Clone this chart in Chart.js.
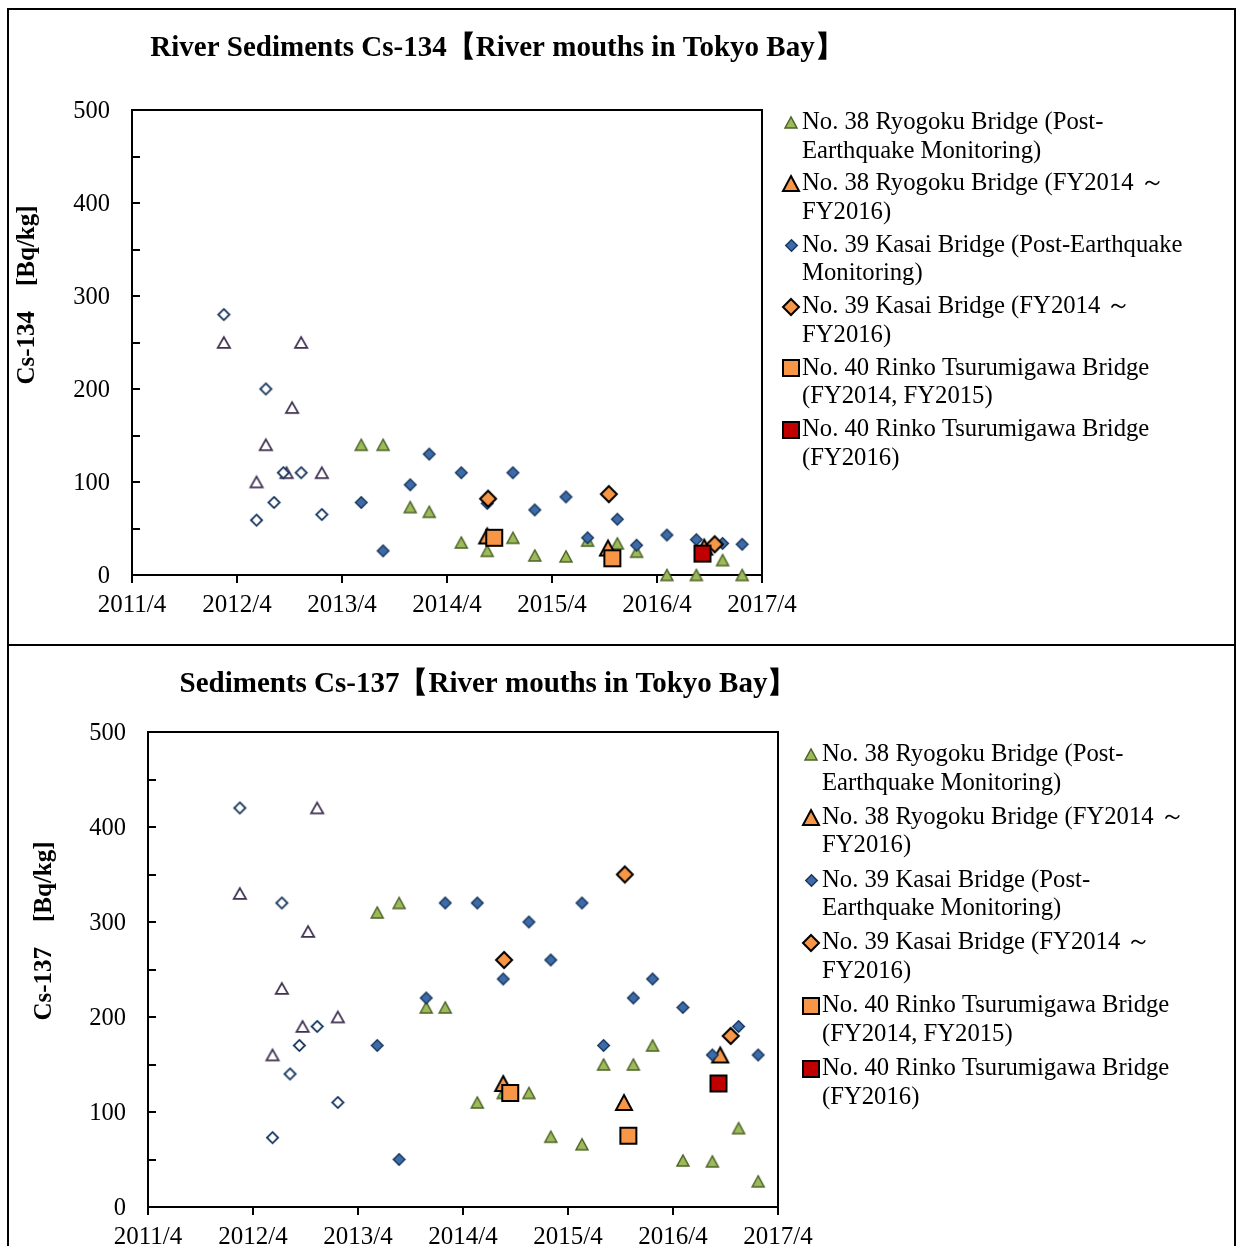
<!DOCTYPE html>
<html>
<head>
<meta charset="utf-8">
<script src="https://cdn.jsdelivr.net/npm/chart.js@4.4.1/dist/chart.umd.min.js"></script>
<style>
  html, body { margin: 0; padding: 0; background: #fff; }
  #wrap { position: relative; width: 1237px; height: 1246px; overflow: hidden; background: #fff; }
  .panel { position: absolute; left: 0; width: 1237px; }
  #p1 { top: 0; height: 645px; }
  #p2 { top: 645px; height: 601px; }
  .frame { position: absolute; border: 2px solid #000; box-sizing: border-box; pointer-events: none; }
</style>
</head>
<body>
<div id="wrap">
  <div class="panel" id="p1"><canvas id="c134" width="1237" height="645"></canvas></div>
  <div class="panel" id="p2"><canvas id="c137" width="1237" height="601"></canvas></div>
  <div class="frame" style="left:7px;top:8px;width:1229px;height:638px"></div>
  <div class="frame" style="left:7px;top:644px;width:1229px;height:620px"></div>
</div>
<script>
// ---- sampling dates ----
// Post-earthquake monitoring (No. 38 Ryogoku Bridge and No. 39 Kasai Bridge)
const postQuakeDates = ['2013-06-07', '2013-08-22', '2013-11-25', '2014-01-30', '2014-05-20', '2014-08-19',
  '2014-11-17', '2015-02-02', '2015-05-19', '2015-08-03', '2015-11-15', '2016-01-21',
  '2016-05-05', '2016-08-16', '2016-11-16', '2017-01-23'];
// Earlier surveys (open markers)
const earlyKasaiDates = ['2012-02-16', '2012-06-08', '2012-07-10', '2012-08-08', '2012-09-10', '2012-11-11', '2013-01-22'];
const earlyRyogokuDates = ['2012-02-16', '2012-06-08', '2012-07-10', '2012-09-21', '2012-10-10', '2012-11-11', '2013-01-22'];
// FY2014 - FY2016 surveys
const fyRyogokuDates = ['2014-08-19', '2015-10-13', '2016-09-13'];
const fyKasaiDates = ['2014-08-22', '2015-10-16', '2016-10-19'];
const rinkoDates1415 = ['2014-09-13', '2015-10-28'];
const rinkoDates16 = ['2016-09-07'];

// ---- Cs-134 (Bq/kg) ----
const cs134EarlyRyogoku = [250, 100, 140, 110, 180, 250, 110];
const cs134EarlyKasai = [280, 59, 200, 78, 110, 110, 65];
const cs134Ryogoku = [140, 140, 73, 68, 35, 26, 40, 21, 20, 37, 34, 25, 0, 0, 16, 0];
const cs134Kasai = [78, 26, 97, 130, 110, 77, 110, 70, 84, 40, 60, 32, 43, 38, 34, 33];
const cs134RyogokuFY = [42, 29, 30];
const cs134KasaiFY = [82, 87, 33];
const cs134Rinko1415 = [40, 18];
const cs134Rinko16 = [23];

// ---- Cs-137 (Bq/kg) ----
const cs137EarlyRyogoku = [330, 160, 230, 190, 290, 420, 200];
const cs137EarlyKasai = [420, 73, 320, 140, 170, 190, 110];
const cs137Ryogoku = [310, 320, 210, 210, 110, 120, 120, 74, 66, 150, 150, 170, 49, 48, 83, 27];
const cs137Kasai = [170, 50, 220, 320, 320, 240, 300, 260, 320, 170, 220, 240, 210, 160, 190, 160];
const cs137RyogokuFY = [130, 110, 160];
const cs137KasaiFY = [260, 350, 180];
const cs137Rinko1415 = [120, 75];
const cs137Rinko16 = [130];

// ---- axis ----
const yearTickLabels = ['2011/4', '2012/4', '2013/4', '2014/4', '2015/4', '2016/4', '2017/4'];
const valueTicks = [0, 100, 200, 300, 400, 500];

// ---- legend text ----
const seriesNames = [
  'No. 38 Ryogoku Bridge (Post-Earthquake Monitoring)',
  'No. 38 Ryogoku Bridge (FY2014 ～ FY2016)',
  'No. 39 Kasai Bridge (Post-Earthquake Monitoring)',
  'No. 39 Kasai Bridge (FY2014 ～ FY2016)',
  'No. 40 Rinko Tsurumigawa Bridge (FY2014, FY2015)',
  'No. 40 Rinko Tsurumigawa Bridge (FY2016)'
];
const legendLines134 = [
  ['No. 38 Ryogoku Bridge (Post-', 'Earthquake Monitoring)'],
  ['No. 38 Ryogoku Bridge (FY2014 ～', 'FY2016)'],
  ['No. 39 Kasai Bridge (Post-Earthquake', 'Monitoring)'],
  ['No. 39 Kasai Bridge (FY2014 ～', 'FY2016)'],
  ['No. 40 Rinko Tsurumigawa Bridge', '(FY2014, FY2015)'],
  ['No. 40 Rinko Tsurumigawa Bridge', '(FY2016)']
];
const legendLines137 = [
  ['No. 38 Ryogoku Bridge (Post-', 'Earthquake Monitoring)'],
  ['No. 38 Ryogoku Bridge (FY2014 ～', 'FY2016)'],
  ['No. 39 Kasai Bridge (Post-', 'Earthquake Monitoring)'],
  ['No. 39 Kasai Bridge (FY2014 ～', 'FY2016)'],
  ['No. 40 Rinko Tsurumigawa Bridge', '(FY2014, FY2015)'],
  ['No. 40 Rinko Tsurumigawa Bridge', '(FY2016)']
];

const SERIF = '"Liberation Serif", "Times New Roman", serif';

// months elapsed since 2011-04-01
function monthsSinceStart(iso) {
  const [y, m, d] = iso.split('-').map(Number);
  return (y - 2011) * 12 + (m - 4) + (d - 1) / 30;
}

// marker bitmaps
function makeMarker(shape, w, h, fill, stroke, lw) {
  const c = document.createElement('canvas');
  const W = Math.ceil(w) + 4, H = Math.ceil(h) + 4;
  c.width = W; c.height = H;
  const g = c.getContext('2d');
  const x0 = (W - w) / 2 + lw / 2, y0 = (H - h) / 2 + lw / 2;
  const x1 = x0 + w - lw, y1 = y0 + h - lw;
  const cx = (x0 + x1) / 2, cy = (y0 + y1) / 2;
  g.beginPath();
  if (shape === 'triangle') {
    g.moveTo(cx, y0); g.lineTo(x1, y1); g.lineTo(x0, y1); g.closePath();
  } else if (shape === 'diamond') {
    g.moveTo(cx, y0); g.lineTo(x1, cy); g.lineTo(cx, y1); g.lineTo(x0, cy); g.closePath();
  } else {
    g.rect(x0, y0, x1 - x0, y1 - y0);
  }
  g.fillStyle = fill; g.fill();
  g.lineJoin = 'miter'; g.lineWidth = lw; g.strokeStyle = stroke; g.stroke();
  return c;
}

const markers = {
  earlyRyogoku: makeMarker('triangle', 14, 12.5, '#ffffff', '#403152', 1.8),
  earlyKasai: makeMarker('diamond', 13, 13, '#ffffff', '#17365D', 1.8),
  ryogoku: makeMarker('triangle', 13.5, 12.5, '#9BBB59', '#4F6228', 1.4),
  ryogokuFY: makeMarker('triangle', 18, 17, '#F79646', '#000000', 2),
  kasai: makeMarker('diamond', 13, 13, '#3D6BA8', '#17365D', 1.4),
  kasaiFY: makeMarker('diamond', 18, 18, '#F79646', '#000000', 2),
  rinko1415: makeMarker('square', 18, 18, '#F79646', '#000000', 2),
  rinko16: makeMarker('square', 18, 18, '#C00000', '#000000', 2)
};
const legendMarkers = [markers.ryogoku, markers.ryogokuFY, markers.kasai, markers.kasaiFY, markers.rinko1415, markers.rinko16];

function points(dates, values) {
  return dates.map((d, i) => ({ x: monthsSinceStart(d), y: values[i] }));
}

// draws the plot box, inside value ticks, titles and legend
const decorPlugin = {
  id: 'decor',
  beforeDatasetsDraw(chart, args, o) {
    const { ctx, chartArea: a } = chart;
    const ys = chart.scales.y;
    ctx.save();
    ctx.strokeStyle = '#000';
    ctx.lineWidth = 2;
    ctx.beginPath();
    ctx.moveTo(a.left, a.top); ctx.lineTo(a.right, a.top); ctx.lineTo(a.right, a.bottom);
    ctx.stroke();
    ctx.beginPath();
    ys.ticks.forEach(t => {
      const py = Math.round(ys.getPixelForValue(t.value));
      ctx.moveTo(a.left, py); ctx.lineTo(a.left + 8, py);
    });
    ctx.stroke();
    ctx.restore();
  },
  afterDraw(chart, args, o) {
    const ctx = chart.ctx;
    ctx.save();
    ctx.fillStyle = '#000';
    ctx.textBaseline = 'middle';
    // title
    ctx.font = 'bold 29px ' + SERIF;
    ctx.textAlign = 'center';
    ctx.fillText(o.title, o.titleX, o.titleY);
    // value axis title
    ctx.save();
    ctx.translate(o.yTitleX, o.yTitleY);
    ctx.rotate(-Math.PI / 2);
    ctx.font = 'bold 25px ' + SERIF;
    ctx.fillText(o.yTitle, 0, 0);
    ctx.restore();
    // legend
    ctx.font = '24.7px ' + SERIF;
    ctx.textAlign = 'left';
    o.legend.forEach((lines, i) => {
      const y = o.legendY + i * o.legendStep;
      const m = legendMarkers[i];
      ctx.drawImage(m, Math.round(o.legendMarkerX - m.width / 2), Math.round(y - m.height / 2));
      lines.forEach((ln, j) => ctx.fillText(ln, o.legendTextX, y + j * o.legendLine));
    });
    ctx.restore();
  }
};

function buildChart(id, s) {
  const sets = [
    { label: 'Earlier survey (No. 38)', data: points(earlyRyogokuDates, s.earlyRyogoku), pointStyle: markers.earlyRyogoku },
    { label: 'Earlier survey (No. 39)', data: points(earlyKasaiDates, s.earlyKasai), pointStyle: markers.earlyKasai },
    { label: seriesNames[0], data: points(postQuakeDates, s.ryogoku), pointStyle: markers.ryogoku },
    { label: seriesNames[1], data: points(fyRyogokuDates, s.ryogokuFY), pointStyle: markers.ryogokuFY },
    { label: seriesNames[2], data: points(postQuakeDates, s.kasai), pointStyle: markers.kasai },
    { label: seriesNames[3], data: points(fyKasaiDates, s.kasaiFY), pointStyle: markers.kasaiFY },
    { label: seriesNames[4], data: points(rinkoDates1415, s.rinko1415), pointStyle: markers.rinko1415 },
    { label: seriesNames[5], data: points(rinkoDates16, s.rinko16), pointStyle: markers.rinko16 }
  ];
  sets.forEach((d, i) => {
    d.showLine = false;
    d.clip = false;
    d.pointRadius = 6;
    d.pointHoverRadius = 6;
    d.order = sets.length - i; // later series drawn on top
  });
  const L = s.layout;
  return new Chart(document.getElementById(id), {
    type: 'scatter',
    data: { datasets: sets },
    plugins: [decorPlugin],
    options: {
      responsive: false,
      animation: false,
      events: [],
      layout: { padding: { left: 0, top: L.top, right: L.right, bottom: L.bottom } },
      plugins: {
        legend: { display: false },
        tooltip: { enabled: false },
        title: { display: false },
        decor: s.decor
      },
      scales: {
        x: {
          type: 'linear', min: 0, max: 72,
          afterFit: sc => { sc.height = L.xHeight; },
          border: { display: true, color: '#000', width: 2 },
          grid: { drawOnChartArea: false, drawTicks: true, tickLength: 8, color: '#000', lineWidth: 2 },
          ticks: {
            stepSize: 12, autoSkip: false, maxRotation: 0, minRotation: 0, padding: 7,
            color: '#000', font: { family: SERIF, size: 25 },
            callback: v => yearTickLabels[Math.round(v / 12)]
          }
        },
        y: {
          type: 'linear', min: 0, max: 500,
          afterFit: sc => { sc.width = L.yWidth; },
          border: { display: true, color: '#000', width: 2 },
          grid: { drawOnChartArea: false, drawTicks: false },
          ticks: {
            stepSize: 50, padding: 22, labelOffset: 2, color: '#000', font: { family: SERIF, size: 24.5 },
            callback: v => valueTicks.includes(v) ? String(v) : ''
          }
        }
      }
    }
  });
}

buildChart('c134', {
  earlyRyogoku: cs134EarlyRyogoku, earlyKasai: cs134EarlyKasai,
  ryogoku: cs134Ryogoku, ryogokuFY: cs134RyogokuFY,
  kasai: cs134Kasai, kasaiFY: cs134KasaiFY,
  rinko1415: cs134Rinko1415, rinko16: cs134Rinko16,
  layout: { top: 110, right: 475, bottom: 30, xHeight: 40, yWidth: 132 },
  decor: {
    title: 'River Sediments Cs-134【River mouths in Tokyo Bay】', titleX: 497, titleY: 48.5,
    yTitle: 'Cs-134　[Bq/kg]', yTitleX: 28, yTitleY: 295,
    legend: legendLines134, legendY: 122.5, legendStep: 61.4, legendLine: 28.6,
    legendMarkerX: 791, legendTextX: 802
  }
});

buildChart('c137', {
  earlyRyogoku: cs137EarlyRyogoku, earlyKasai: cs137EarlyKasai,
  ryogoku: cs137Ryogoku, ryogokuFY: cs137RyogokuFY,
  kasai: cs137Kasai, kasaiFY: cs137KasaiFY,
  rinko1415: cs137Rinko1415, rinko16: cs137Rinko16,
  layout: { top: 87, right: 459, bottom: 0, xHeight: 39, yWidth: 148 },
  decor: {
    title: 'Sediments Cs-137【River mouths in Tokyo Bay】', titleX: 488, titleY: 39.5,
    yTitle: 'Cs-137　[Bq/kg]', yTitleX: 45, yTitleY: 286,
    legend: legendLines137, legendY: 109.5, legendStep: 62.8, legendLine: 28.6,
    legendMarkerX: 811, legendTextX: 822
  }
});
</script>
</body>
</html>
